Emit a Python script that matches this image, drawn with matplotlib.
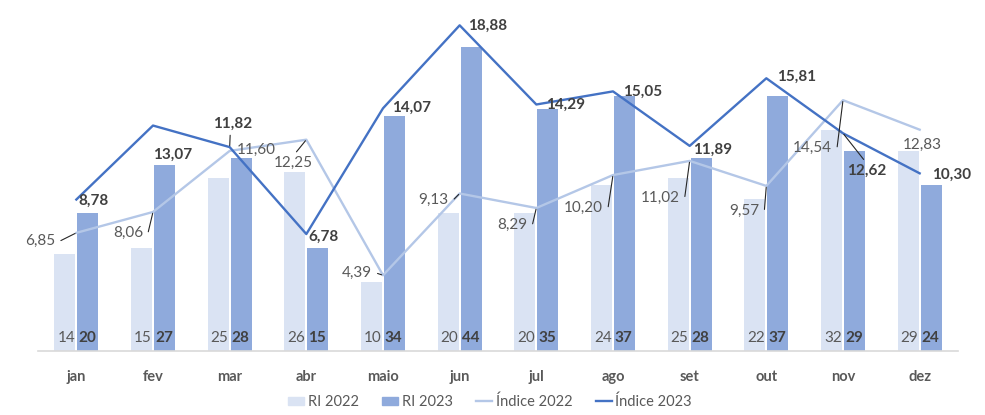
import numpy as np
import matplotlib
matplotlib.use("Agg")
import matplotlib.pyplot as plt
from matplotlib.patches import Patch
from matplotlib.lines import Line2D

plt.rcParams['font.family'] = ['Lato', 'DejaVu Sans']

meses = ["jan", "fev", "mar", "abr", "maio", "jun", "jul", "ago", "set", "out", "nov", "dez"]
ri_2022 = [14, 15, 25, 26, 10, 20, 20, 24, 25, 22, 32, 29]
ri_2023 = [20, 27, 28, 15, 34, 44, 35, 37, 28, 37, 29, 24]
indice_2022 = [6.85, 8.06, 11.60, 12.25, 4.39, 9.13, 8.29, 10.20, 11.02, 9.57, 14.54, 12.83]
indice_2023 = [8.78, 13.07, 11.82, 6.78, 14.07, 18.88, 14.29, 15.05, 11.89, 15.81, 12.62, 10.30]

C_RI22, C_RI23 = "#DAE3F3", "#8FAADC"
C_IX22, C_IX23 = "#B4C7E7", "#4472C4"
C_TXT, C_TXTB = "#595959", "#404040"

# label placement (pixel offsets from point, alignment, leader type)
lab23 = [(2, 1, "left", None), (0, 29, "left", None), (-17, -23, "left", "bottom"),
         (2, 3, "left", None), (9, 0, "left", None), (8, 0, "left", None),
         (10, 0, "left", None), (10, 0, "left", None), (3, 4, "left", None),
         (11, -1, "left", None), (4, 37, "left", "top"), (12, 1, "left", None)]
lab22 = [(-21, 8, "right", "stub"), (-10, 21, "right", "stub"), (7, -1, "left", None),
         (-13, 23, "center", "top"), (-11, -2, "right", "stub"), (-11, 6, "right", "stub"),
         (-9, 17, "right", "stub"), (-10, 33, "right", "stub"), (-10, 37, "right", "stub"),
         (-7, 25, "right", "stub"), (-11, 48, "right", "stub"), (3, 15, "center", None)]

fmt = lambda v: f"{v:.2f}".replace(".", ",")

fig = plt.figure(figsize=(9.85, 4.15), dpi=100)
ax = fig.add_axes([38 / 985, 64 / 415, 920 / 985, 345 / 415])
x = np.arange(len(meses))
w = 0.27
ax.bar(x - 0.15, ri_2022, w, color=C_RI22, zorder=2)
ax.bar(x + 0.15, ri_2023, w, color=C_RI23, zorder=2)
for i in range(len(meses)):
    ax.text(x[i] - 0.15 + w / 2, 1.9, str(ri_2022[i]), ha="right", va="center",
            fontsize=11, color=C_TXT, zorder=3)
    ax.text(x[i] + 0.15 - w / 2 + 0.01, 1.9, str(ri_2023[i]), ha="left", va="center",
            fontsize=11, color=C_TXTB, fontweight="bold", zorder=3)
ax.set_ylim(0, 50)
ax.set_xlim(-0.5, len(meses) - 0.5)
ax.set_yticks([])
ax.set_xticks(x)
ax.set_xticklabels(meses, fontsize=10.5, fontweight="bold", color=C_TXT)
ax.tick_params(axis="x", length=0, pad=14)
for s in ["top", "left", "right"]:
    ax.spines[s].set_visible(False)
ax.spines["bottom"].set_color("#D9D9D9")
ax.spines["bottom"].set_linewidth(1.2)

ax2 = ax.twinx()
ax2.set_ylim(0, 20)
ax2.set_yticks([])
for s in ax2.spines.values():
    s.set_visible(False)
ax2.plot(x, indice_2022, color=C_IX22, lw=1.7, zorder=3)
ax2.plot(x, indice_2023, color=C_IX23, lw=1.7, zorder=4)


def label(vals, specs, bold):
    for i, (v, (dx, dy, ha, lead)) in enumerate(zip(vals, specs)):
        kw = dict(textcoords="offset pixels", ha=ha, va="center", fontsize=11,
                  color=C_TXTB if bold else C_TXT, fontweight="bold" if bold else "normal",
                  zorder=5)
        if lead == "stub":
            kw["arrowprops"] = dict(arrowstyle="-", color="#262626", lw=0.8, relpos=(1, 0.5),
                                    shrinkA=2, shrinkB=1,
                                    connectionstyle="arc,angleA=0,angleB=0,armA=5,armB=0,rad=0")
        elif lead in ("top", "bottom"):
            kw["arrowprops"] = dict(arrowstyle="-", color="#262626", lw=0.8,
                                    relpos=(0.5, 1) if lead == "top" else (0.45, 0),
                                    shrinkA=1, shrinkB=1)
        ax2.annotate(fmt(v), (x[i], v), xytext=(dx, -dy), **kw)


label(indice_2022, lab22, False)
label(indice_2023, lab23, True)

handles = [Patch(color=C_RI22), Patch(color=C_RI23),
           Line2D([], [], color=C_IX22, lw=1.7), Line2D([], [], color=C_IX23, lw=1.7)]
fig.legend(handles, ["RI 2022", "RI 2023", "Índice 2022", "Índice 2023"], loc="center",
           bbox_to_anchor=(490 / 985, 13 / 415), ncol=4, frameon=False, fontsize=10.5,
           labelcolor=C_TXT, handlelength=1.1, handleheight=0.55, handletextpad=0.25,
           columnspacing=1.6)

fig.savefig("out.png", dpi=100)
